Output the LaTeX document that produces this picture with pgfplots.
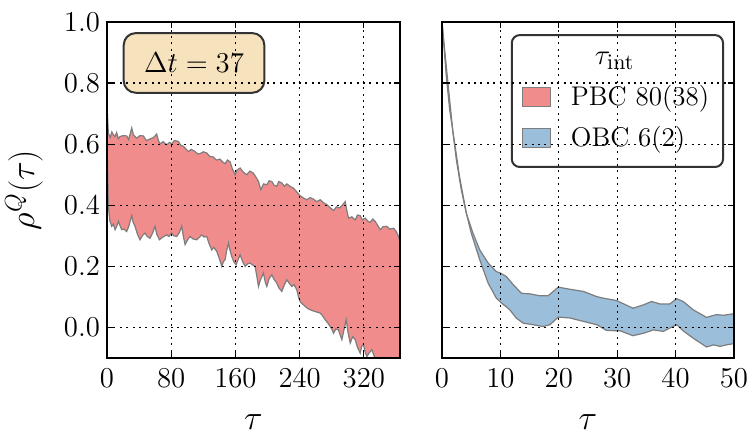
\documentclass[border=0pt]{standalone}
\usepackage{pgfplots}
\pgfplotsset{compat=1.18}
\usepgfplotslibrary{fillbetween}
\definecolor{pbc}{RGB}{241,140,141}
\definecolor{obc}{RGB}{155,190,219}
\definecolor{wheatc}{RGB}{245,222,179}
\definecolor{edgeg}{RGB}{125,125,125}
\pgfplotstableread{
t y
0 1.0
0.5 0.70
1.7 0.636
4 0.622
6 0.640
7.9 0.631
10 0.625
12 0.638
14 0.618
16.2 0.625
20 0.628
24.5 0.627
27 0.615
30.8 0.653
33 0.630
37 0.620
41 0.628
45.3 0.627
49 0.612
53.6 0.617
58 0.622
61.9 0.633
64 0.612
66.1 0.601
70 0.608
74.4 0.598
78 0.606
80.6 0.601
84 0.612
88.9 0.609
92 0.596
95.2 0.593
98 0.585
101.4 0.576
105 0.583
109.7 0.576
113 0.568
116 0.569
120 0.575
124.3 0.571
128 0.560
132.6 0.558
136 0.548
140.9 0.551
144 0.542
147.1 0.536
150 0.548
153.4 0.542
156 0.520
159.6 0.500
162 0.515
165.8 0.522
170 0.508
174.1 0.500
178 0.512
182.4 0.505
186 0.490
188.7 0.478
191.6 0.451
195 0.470
199.1 0.467
202 0.480
205.3 0.478
208 0.466
211.5 0.462
214 0.478
217.8 0.473
221 0.462
224 0.470
228 0.462
232.3 0.456
236 0.445
240.6 0.431
244 0.425
248.9 0.418
253 0.425
257.3 0.420
261 0.412
265.6 0.418
270 0.408
273.9 0.402
278 0.392
282.2 0.383
286 0.395
289.7 0.391
293 0.400
296.7 0.412
299 0.380
300.9 0.358
305 0.362
309.2 0.352
312 0.368
315.4 0.366
318 0.352
321.7 0.358
325 0.348
327.9 0.344
331 0.355
334.1 0.347
337 0.335
340.4 0.320
344 0.330
348.7 0.331
352 0.322
357 0.325
360 0.315
362.4 0.303
365 0.282
}\pbcup
\pgfplotstableread{
t y
0 1.0
0.5 0.55
1.7 0.396
3.5 0.350
5.8 0.331
8 0.338
10 0.320
12 0.330
14.1 0.347
16 0.335
18.3 0.320
21 0.322
24.5 0.314
27 0.330
30.8 0.366
32.5 0.345
34.9 0.331
38 0.305
41.1 0.287
44 0.300
47.4 0.309
50 0.298
53.6 0.292
57 0.310
59.8 0.331
62 0.305
65.3 0.287
69 0.295
74.4 0.303
77 0.298
80.6 0.309
83 0.300
86.9 0.298
90 0.310
93.1 0.331
95 0.300
97.3 0.271
100 0.285
103.5 0.298
107 0.290
111.8 0.287
115 0.295
118 0.303
121 0.296
124.3 0.298
127 0.275
130.5 0.254
133 0.262
136.7 0.249
140 0.225
143 0.200
145 0.215
147.1 0.222
149 0.250
151.3 0.276
153 0.255
155.4 0.232
158 0.215
160.8 0.205
163 0.220
165.8 0.238
169 0.215
172.1 0.200
175 0.208
178.3 0.211
181 0.205
184.5 0.200
186.5 0.170
188.7 0.134
191 0.155
194.9 0.178
197 0.150
199.1 0.134
202 0.160
205.3 0.172
208 0.158
211.5 0.145
214 0.130
217.8 0.118
221 0.140
224 0.156
227 0.145
230.2 0.134
233 0.140
236.5 0.123
238.5 0.100
240.6 0.085
243 0.078
246.9 0.069
250 0.062
253.1 0.058
256 0.055
259.3 0.052
262 0.050
265.6 0.047
268 0.040
271.8 0.025
275 0.015
278 0.003
280 -0.005
282.2 -0.019
285 -0.005
288.4 -0.008
290.5 -0.025
292.6 -0.040
295 -0.010
298 0.025
300.5 -0.020
303 -0.051
306 -0.030
309.2 -0.040
312 -0.065
315.4 -0.084
317.5 -0.060
319.6 -0.057
321.5 -0.080
323.8 -0.095
327 -0.082
330 -0.073
333 -0.095
336.2 -0.106
340 -0.125
344.5 -0.14
350 -0.16
355 -0.18
360 -0.2
365 -0.22
}\pbclo
\pgfplotstableread{
t y
0 1.0
0.74 0.854
1.31 0.745
1.89 0.636
2.46 0.549
3.3 0.451
4.17 0.374
5.3 0.309
6.46 0.254
7.9 0.211
9.3 0.183
10 0.178
11 0.167
12.2 0.140
13.6 0.112
15 0.110
16.7 0.104
18.2 0.104
19.9 0.132
21.9 0.125
24.2 0.118
26.5 0.101
27.6 0.096
29.9 0.088
32.7 0.063
34.5 0.074
35.9 0.085
37.3 0.077
39 0.077
40.2 0.094
41.3 0.085
43 0.058
45.3 0.033
47 0.042
48.2 0.040
50 0.045
}\obcup
\pgfplotstableread{
t y
0 1.0
0.74 0.822
1.31 0.713
2.17 0.603
3 0.494
4.17 0.374
5 0.309
6.46 0.222
7.9 0.145
9.3 0.096
10.2 0.080
11.6 0.058
12.7 0.031
13.9 0.014
15.6 0.009
17.3 0.003
18.5 0.009
19.9 0.034
21.9 0.031
24.2 0.020
26.5 0.009
28.2 -0.010
30.5 -0.011
32.7 -0.027
34.5 -0.019
36.2 -0.008
37.9 -0.013
39 -0.002
40.2 0.009
41.3 -0.011
43 -0.035
45.3 -0.064
46.5 -0.057
47.6 -0.062
48.7 -0.057
50 -0.053
}\obclo
\pgfplotsset{
  panel/.style={
    scale only axis, height=168pt,
    ymin=-0.1, ymax=1.0,
    ytick={0,0.2,0.4,0.6,0.8,1.0},
    yticklabel style={/pgf/number format/fixed,/pgf/number format/fixed zerofill,/pgf/number format/precision=1},
    xticklabel style={yshift=-2pt},
    tick align=inside, xtick pos=both, ytick pos=both,
    major tick length=3pt,
    grid=major,
    grid style={black, line width=0.6pt, dash pattern=on 1pt off 2.2pt},
    axis line style={line width=1pt},
    tick style={line width=0.6pt, black},
    tick label style={font=\fontsize{15}{18}\selectfont},
    label style={font=\fontsize{16.5}{19}\selectfont},
    xlabel={$\tau$},
    xlabel style={at={(axis description cs:0.5,-0.19)}, anchor=center, inner sep=0pt},
    axis on top,
  },
  bandline/.style={draw=edgeg, line width=0.6pt, forget plot},
}
\begin{document}
\begin{tikzpicture}
\begin{axis}[panel,
  at={(53.5pt,38pt)}, anchor=south west, width=146.5pt,
  xmin=0, xmax=365, xtick={0,80,160,240,320},
  ylabel={$\rho^{Q}(\tau)$},
  ylabel style={at={(axis description cs:-0.283,0.5)}, anchor=center},
]
\addplot[bandline, name path=pu] table[x=t,y=y] {\pbcup};
\addplot[bandline, name path=pl] table[x=t,y=y] {\pbclo};
\addplot[fill=pbc, draw=none, forget plot] fill between[of=pu and pl];
\coordinate (boxc) at (axis cs:108.4,0.866);
\end{axis}
\node[fill=wheatc, fill opacity=0.85, text opacity=1, draw=black!80, line width=1pt,
      rounded corners=6pt, inner xsep=10.2pt, inner ysep=10pt,
      font=\fontsize{15}{18}\selectfont] at (boxc) {$\Delta t = 37$};
\begin{axis}[panel,
  at={(221pt,38pt)}, anchor=south west, width=146pt,
  xmin=0, xmax=50, xtick={0,10,20,30,40,50},
  yticklabels={},
  legend style={at={(axis description cs:0.966,0.964)}, anchor=north east,
    draw=black!80, line width=1pt, rounded corners=4pt, fill=white,
    fill opacity=0.8, text opacity=1,
    font=\fontsize{13.5}{16}\selectfont,
    row sep=5pt, inner xsep=5pt, inner ysep=6.5pt,
    cells={anchor=west},
    /tikz/every odd column/.append style={column sep=8pt}},
  legend image code/.code={\draw[#1, draw=edgeg, line width=0.6pt, fill opacity=1, sharp corners] (0pt,-4.75pt) rectangle (14pt,4.75pt);},
]
\addplot[bandline, name path=ou] table[x=t,y=y] {\obcup};
\addplot[bandline, name path=ol] table[x=t,y=y] {\obclo};
\addplot[fill=obc, draw=none, forget plot] fill between[of=ou and ol];
\addlegendimage{empty legend}
\addlegendentry{\hspace{12pt}{\fontsize{15}{18}\selectfont$\tau_{\mathrm{int}}$}}
\addlegendimage{fill=pbc}
\addlegendentry{PBC 80(38)}
\addlegendimage{fill=obc}
\addlegendentry{OBC 6(2)}
\end{axis}
\pgfresetboundingbox
\path[use as bounding box] (0,0) rectangle (376pt,217pt);
\end{tikzpicture}
\end{document}
